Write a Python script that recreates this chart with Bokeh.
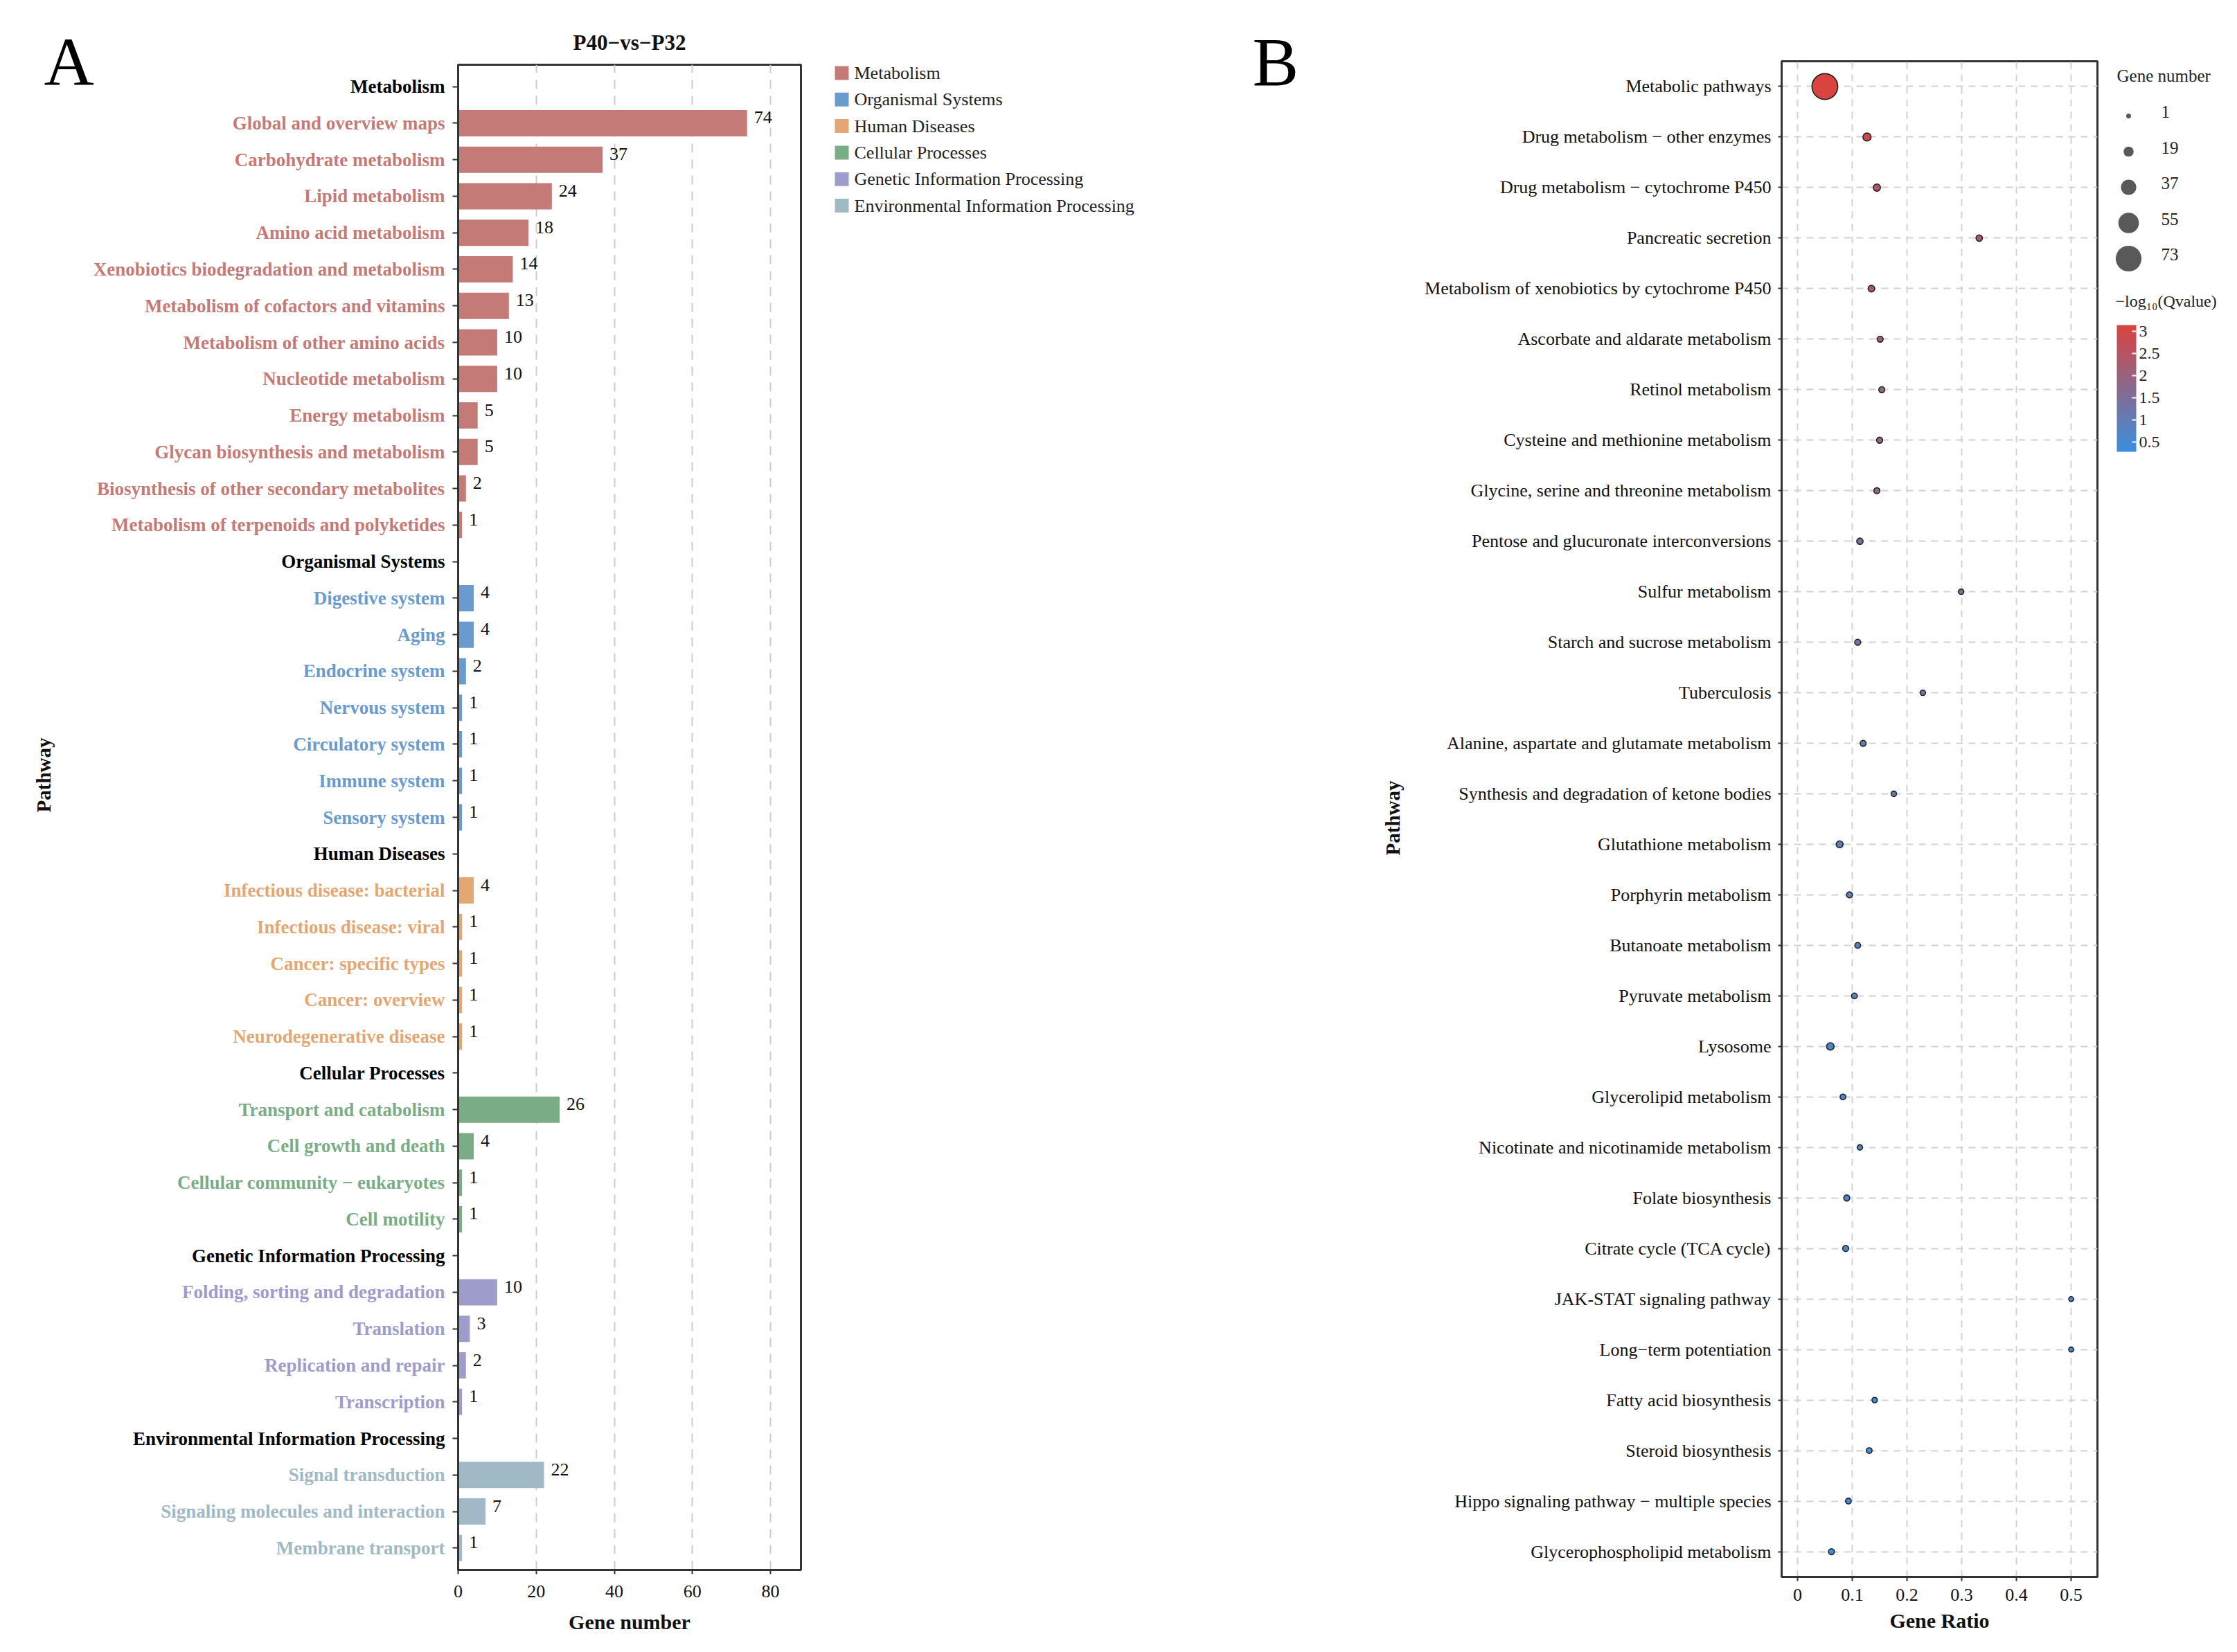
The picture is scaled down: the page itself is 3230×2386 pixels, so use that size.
from bokeh.plotting import figure
from bokeh.models import (ColumnDataSource, FactorRange, Range1d, FixedTicker, Title,
                          LinearColorMapper, ColorBar, NumeralTickFormatter)
from bokeh.layouts import row, column
from bokeh.embed import file_html
from bokeh.resources import INLINE
from bokeh.core.properties import value
import math

SERIF = "Liberation Serif"

# ---------------- Panel A data ----------------
classes = ["Metabolism", "Organismal Systems", "Human Diseases", "Cellular Processes",
           "Genetic Information Processing", "Environmental Information Processing"]
class_colors = ["#C47A77", "#6A9BCF", "#E2A772", "#7AAD85", "#9E9CCB", "#A0B9C4"]

metabolism_terms = ["Global and overview maps", "Carbohydrate metabolism", "Lipid metabolism",
                    "Amino acid metabolism", "Xenobiotics biodegradation and metabolism",
                    "Metabolism of cofactors and vitamins", "Metabolism of other amino acids",
                    "Nucleotide metabolism", "Energy metabolism", "Glycan biosynthesis and metabolism",
                    "Biosynthesis of other secondary metabolites", "Metabolism of terpenoids and polyketides"]
metabolism_genes = [74, 37, 24, 18, 14, 13, 10, 10, 5, 5, 2, 1]
organismal_terms = ["Digestive system", "Aging", "Endocrine system", "Nervous system",
                    "Circulatory system", "Immune system", "Sensory system"]
organismal_genes = [4, 4, 2, 1, 1, 1, 1]
human_terms = ["Infectious disease: bacterial", "Infectious disease: viral", "Cancer: specific types",
               "Cancer: overview", "Neurodegenerative disease"]
human_genes = [4, 1, 1, 1, 1]
cellular_terms = ["Transport and catabolism", "Cell growth and death",
                  "Cellular community \u2212 eukaryotes", "Cell motility"]
cellular_genes = [26, 4, 1, 1]
genetic_terms = ["Folding, sorting and degradation", "Translation", "Replication and repair", "Transcription"]
genetic_genes = [10, 3, 2, 1]
environmental_terms = ["Signal transduction", "Signaling molecules and interaction", "Membrane transport"]
environmental_genes = [22, 7, 1]

a_xticks = [0, 20, 40, 60, 80]

# ---------------- Panel B data ----------------
b_pathways = ["Metabolic pathways", "Drug metabolism \u2212 other enzymes",
              "Drug metabolism \u2212 cytochrome P450", "Pancreatic secretion",
              "Metabolism of xenobiotics by cytochrome P450", "Ascorbate and aldarate metabolism",
              "Retinol metabolism", "Cysteine and methionine metabolism",
              "Glycine, serine and threonine metabolism", "Pentose and glucuronate interconversions",
              "Sulfur metabolism", "Starch and sucrose metabolism", "Tuberculosis",
              "Alanine, aspartate and glutamate metabolism", "Synthesis and degradation of ketone bodies",
              "Glutathione metabolism", "Porphyrin metabolism", "Butanoate metabolism",
              "Pyruvate metabolism", "Lysosome", "Glycerolipid metabolism",
              "Nicotinate and nicotinamide metabolism", "Folate biosynthesis", "Citrate cycle (TCA cycle)",
              "JAK-STAT signaling pathway", "Long\u2212term potentiation", "Fatty acid biosynthesis",
              "Steroid biosynthesis", "Hippo signaling pathway \u2212 multiple species",
              "Glycerophospholipid metabolism"]
b_ratio = [0.050, 0.127, 0.145, 0.332, 0.135, 0.151, 0.154, 0.150, 0.145, 0.114,
           0.299, 0.110, 0.229, 0.120, 0.176, 0.077, 0.095, 0.110, 0.104, 0.060,
           0.083, 0.114, 0.090, 0.088, 0.500, 0.500, 0.141, 0.131, 0.093, 0.062]
b_genes = [73, 12, 9, 6, 7, 5, 5, 5, 5, 6, 3, 5, 3, 5, 3, 8, 5, 4, 4, 10,
           4, 3, 5, 5, 1, 1, 3, 4, 4, 5]
b_neglogq = [3.14, 2.95, 2.45, 2.30, 2.25, 2.15, 1.85, 1.80, 1.75, 1.45,
             1.40, 1.35, 1.20, 1.10, 1.05, 0.95, 0.90, 0.85, 0.80, 0.70,
             0.65, 0.62, 0.58, 0.55, 0.50, 0.48, 0.42, 0.38, 0.33, 0.28]
b_xticks = [0, 0.1, 0.2, 0.3, 0.4, 0.5]
size_breaks = [1, 19, 37, 55, 73]
q_ticks = [0.5, 1, 1.5, 2, 2.5, 3]


def dot_size(n):
    # linear size scale (screen px) for gene number
    return 7.0 + 0.42 * (n - 1)


low_rgb, high_rgb = (58, 143, 223), (217, 68, 62)
palette = ["#%02x%02x%02x" % tuple(int(round(a + (b - a) * i / 255.0)) for a, b in zip(low_rgb, high_rgb))
           for i in range(256)]


def side_figure(w, h, xr, yr):
    f = figure(width=w, height=h, x_range=xr, y_range=yr, min_border=0, title=None,
               x_axis_location=None, y_axis_location=None, output_backend="svg", toolbar_location=None)
    f.grid.visible = False
    f.outline_line_color = None
    return f


# ---------------- Panel A ----------------
term_lists = [metabolism_terms, organismal_terms, human_terms, cellular_terms, genetic_terms, environmental_terms]
gene_lists = [metabolism_genes, organismal_genes, human_genes, cellular_genes, genetic_genes, environmental_genes]

rowsA, label_colors = [], []
for cls, col, terms in zip(classes, class_colors, term_lists):
    rowsA.append(cls)
    label_colors.append("#000000")
    for t in terms:
        rowsA.append(t)
        label_colors.append(col)

A_XMAX = 87.8
A_TOP, A_FH, A_BOT = 93, 2174, 93          # frame of panel A (canvas height 2360)
A_H = A_TOP + A_FH + A_BOT
A_PAD = 0.1                                 # discrete axis expansion
A_UNIT = A_FH / (len(rowsA) + 2 * A_PAD)    # px per category


def a_synth(ref_y):
    return -A_PAD + (A_TOP + A_FH - ref_y) / A_UNIT


# label strip left of panel A (same category scale, extended to the whole canvas)
AL_W = 645
pAL = side_figure(AL_W, A_H, Range1d(0, AL_W),
                  FactorRange(factors=rowsA[::-1], range_padding=A_PAD + A_TOP / A_UNIT,
                              range_padding_units="absolute"))
cat_src = ColumnDataSource(dict(y=rowsA, c=label_colors))
pAL.text(x=AL_W - 3, y="y", text="y", source=cat_src, text_color="c", text_align="right",
         text_baseline="middle", text_font=value(SERIF), text_font_style="bold", text_font_size="27px")
pAL.text(x=[63], y=[a_synth(89)], text=["A"], text_font=value(SERIF), text_font_size="100px",
         text_baseline="middle", text_align="left", text_color="#000000")
pAL.text(x=[62], y=[a_synth(1119)], text=["Pathway"], text_font=value(SERIF), text_font_size="29px",
         text_font_style="bold", text_baseline="middle", text_align="center", angle=math.pi / 2,
         text_color="#111111")

pA = figure(frame_width=495, frame_height=A_FH, min_border_left=16, min_border_right=4,
            min_border_top=A_TOP, min_border_bottom=A_BOT,
            x_range=Range1d(0, A_XMAX),
            y_range=FactorRange(factors=rowsA[::-1], range_padding=A_PAD, range_padding_units="absolute"),
            output_backend="svg", toolbar_location=None)
pA.title = Title(text="P40\u2212vs\u2212P32", align="center", text_font=SERIF, text_font_size="31px",
                 text_font_style="bold", text_color="#111111", standoff=29)
pA.outline_line_color = "#333333"
pA.outline_line_width = 3
pA.ygrid.visible = False
pA.xgrid.ticker = FixedTicker(ticks=a_xticks[1:])
pA.xgrid.grid_line_color = "#cccccc"
pA.xgrid.grid_line_width = 2
pA.xgrid.grid_line_dash = "13 10"

xa = pA.xaxis[0]
xa.ticker = FixedTicker(ticks=a_xticks)
xa.axis_label = "Gene number"
xa.axis_label_text_font = SERIF
xa.axis_label_text_font_style = "bold"
xa.axis_label_text_font_size = "30px"
xa.axis_label_text_color = "#111111"
xa.axis_label_standoff = 16
xa.major_label_text_font = SERIF
xa.major_label_text_font_size = "26px"
xa.major_label_text_color = "#111111"
xa.major_label_standoff = 16
xa.major_tick_out = 6
xa.major_tick_in = 0
xa.major_tick_line_width = 2
xa.major_tick_line_color = "#333333"
xa.minor_tick_line_color = None
xa.axis_line_color = "#333333"
xa.axis_line_width = 3

ya = pA.yaxis[0]
ya.major_label_text_font_size = "0px"
ya.major_label_text_color = None
ya.major_label_standoff = 0
ya.major_tick_out = 8
ya.major_tick_in = 0
ya.major_tick_line_width = 2
ya.major_tick_line_color = "#333333"
ya.axis_line_color = "#333333"
ya.axis_line_width = 3

for cls, col, terms, genes in zip(classes, class_colors, term_lists, gene_lists):
    src = ColumnDataSource(dict(y=terms, right=genes))
    pA.hbar(y="y", right="right", left=0, height=0.72, source=src, fill_color=col, line_color=None)

all_terms, all_genes = [], []
for terms, genes in zip(term_lists, gene_lists):
    all_terms += terms
    all_genes += genes
val_src = ColumnDataSource(dict(y=all_terms, x=all_genes, t=[str(g) for g in all_genes]))
pA.text(x="x", y="y", text="t", source=val_src, x_offset=10, y_offset=-8,
        text_baseline="middle", text_align="left", text_font=value(SERIF),
        text_font_size="26px", text_color="#111111")

# legend strip right of panel A (keys for the pathway classes)
AR_W = 628
pAR = side_figure(AR_W, A_H, Range1d(0, AR_W), Range1d(A_H, 0))
leg_y0, leg_dy = 105, 38.3
legA_src = ColumnDataSource(dict(y=[leg_y0 + i * leg_dy for i in range(len(classes))],
                                 c=class_colors, t=classes))
pAR.rect(x=55, y="y", width=20, height=20, source=legA_src, fill_color="c", line_color=None)
pAR.text(x=73, y="y", text="t", source=legA_src, text_font=value(SERIF), text_font_size="26px",
         text_baseline="middle", text_align="left", text_color="#222222")

# ---------------- Panel B ----------------
BL_W = 252
pBL = side_figure(BL_W, 2370, Range1d(0, BL_W), Range1d(2370, 0))
pBL.text(x=[20], y=[89], text=["B"], text_font=value(SERIF), text_font_size="100px",
         text_baseline="middle", text_align="left", text_color="#000000")
pBL.text(x=[222], y=[1181], text=["Pathway"], text_font=value(SERIF), text_font_size="29px",
         text_font_style="bold", text_baseline="middle", text_align="center", angle=math.pi / 2,
         text_color="#111111")

B_X0, B_X1 = -0.029, 0.548
pB = figure(frame_width=456, frame_height=2189, min_border_left=532, min_border_right=4,
            min_border_top=88, min_border_bottom=93,
            x_range=Range1d(B_X0, B_X1), y_range=FactorRange(factors=b_pathways[::-1]),
            output_backend="svg", toolbar_location=None)
pB.outline_line_color = "#333333"
pB.outline_line_width = 3
for g in (pB.xgrid[0], pB.ygrid[0]):
    g.grid_line_color = "#d2d2d2"
    g.grid_line_width = 2
    g.grid_line_dash = "10 8"
pB.xgrid.ticker = FixedTicker(ticks=b_xticks)

xb = pB.xaxis[0]
xb.ticker = FixedTicker(ticks=b_xticks)
xb.formatter = NumeralTickFormatter(format="0.[0]")
xb.axis_label = "Gene Ratio"
xb.axis_label_text_font = SERIF
xb.axis_label_text_font_style = "bold"
xb.axis_label_text_font_size = "30px"
xb.axis_label_text_color = "#111111"
xb.axis_label_standoff = 9
xb.major_label_text_font = SERIF
xb.major_label_text_font_size = "26px"
xb.major_label_text_color = "#111111"
xb.major_label_standoff = 11
xb.major_tick_out = 6
xb.major_tick_in = 0
xb.major_tick_line_width = 2
xb.major_tick_line_color = "#333333"
xb.minor_tick_line_color = None
xb.axis_line_color = "#333333"
xb.axis_line_width = 3

yb = pB.yaxis[0]
yb.major_label_text_font = SERIF
yb.major_label_text_font_size = "26px"
yb.major_label_text_color = "#111111"
yb.major_label_standoff = 10
yb.major_tick_out = 5
yb.major_tick_in = 0
yb.major_tick_line_width = 2
yb.major_tick_line_color = "#333333"
yb.axis_line_color = "#333333"
yb.axis_line_width = 3

mapper = LinearColorMapper(palette=palette, low=min(b_neglogq), high=max(b_neglogq))
b_src = ColumnDataSource(dict(y=b_pathways, x=b_ratio, n=b_genes, q=b_neglogq,
                              s=[dot_size(n) for n in b_genes]))
pB.scatter(x="x", y="y", size="s", source=b_src, marker="circle",
           fill_color={"field": "q", "transform": mapper}, line_color="#222222", line_width=1.6)

# ---------------- Legend strip for B ----------------
LW, LH = 182, 2370
pL = side_figure(LW, LH, Range1d(0, LW), Range1d(LH, 0))

key_y0, key_dy = 167, 51.5
leg_src = ColumnDataSource(dict(x=[41] * len(size_breaks),
                                y=[key_y0 + i * key_dy for i in range(len(size_breaks))],
                                ty=[key_y0 + i * key_dy - 6 for i in range(len(size_breaks))],
                                s=[dot_size(v) for v in size_breaks],
                                t=[str(v) for v in size_breaks]))
pL.scatter(x="x", y="y", size="s", source=leg_src, marker="circle", fill_color="#595959", line_color=None)
pL.text(x=88, y="ty", text="t", source=leg_src, text_font=value(SERIF), text_font_size="25px",
        text_baseline="middle", text_align="left", text_color="#222222")
pL.text(x=[24], y=[109], text=["Gene number"], text_font=value(SERIF), text_font_size="25px",
        text_baseline="middle", text_align="left", text_color="#222222")
pL.text(x=[22], y=[434], text=["\u2212log\u2081\u2080(Qvalue)"], text_font=value(SERIF),
        text_font_size="24px", text_baseline="middle", text_align="left", text_color="#222222")

cb = ColorBar(color_mapper=mapper, ticker=FixedTicker(ticks=q_ticks),
              formatter=NumeralTickFormatter(format="0.[0]"),
              location=(24, LH - 469 - 183), width=28, height=183, padding=0, margin=0,
              major_label_text_font=SERIF, major_label_text_font_size="24px",
              major_label_text_color="#222222", label_standoff=4,
              major_tick_line_color="white", major_tick_line_width=2, major_tick_in=6, major_tick_out=0,
              minor_tick_line_color=None, bar_line_color=None, border_line_color=None,
              background_fill_alpha=0)
pL.add_layout(cb)

layout = row(column(pAL), column(pA), column(pAR), column(pBL), column(pB), column(pL))
open("out.html", "w").write(file_html(layout, INLINE))
